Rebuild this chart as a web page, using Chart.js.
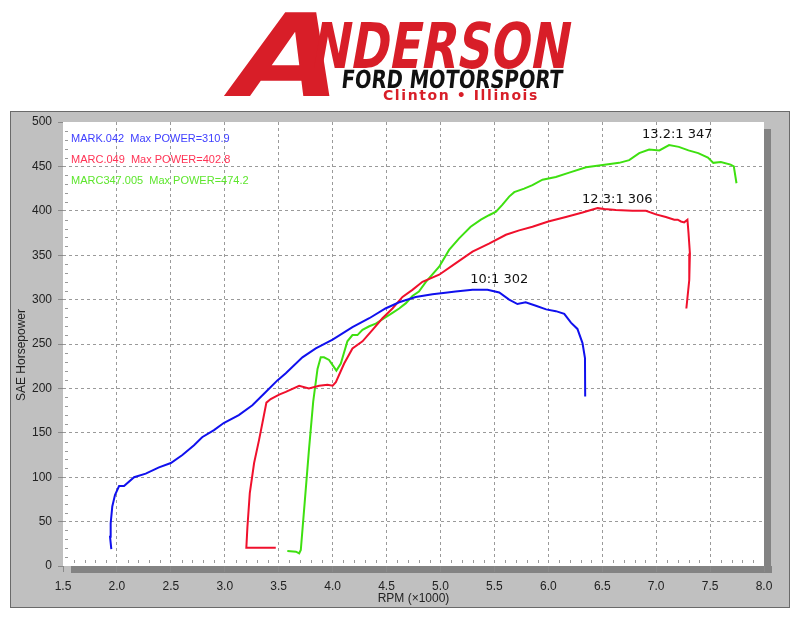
<!DOCTYPE html>
<html>
<head>
<meta charset="utf-8">
<script src="https://cdn.jsdelivr.net/npm/chart.js@4/dist/chart.umd.min.js"></script>
<style>
  html, body { margin: 0; padding: 0; background: #fff; }
  #wrap { position: relative; width: 800px; height: 618px; overflow: hidden; }
  #dyno { position: absolute; left: 0; top: 0; }
  #logo span { position: absolute; white-space: nowrap; line-height: 1; font-family: 'DejaVu Sans'; font-weight: bold; }
  #bigA { left: 218px; top: -1px; font-size: 115px; color: #d81e28; transform-origin: 0 100%; transform: skewX(-16deg) scaleX(1.2); z-index: 1; }
  #nder { left: 308px; top: 15px; font-size: 63px; color: #d81e28; transform-origin: 0 100%; transform: skewX(-10deg) scaleX(0.74); z-index: 2; }
  #ford { left: 343px; top: 67px; font-size: 25px; color: #111; transform-origin: 0 0; transform: skewX(-6deg) scaleX(0.78); z-index: 2; }
  #town { left: 383px; top: 88px; font-size: 14px; color: #d81e28; letter-spacing: 1.6px; z-index: 2; }
</style>
</head>
<body>
<div id="wrap">
  <div id="logo">
    <span id="bigA">A</span><span id="nder">NDERSON</span><span id="ford">FORD MOTORSPORT</span><span id="town">Clinton • Illinois</span>
  </div>
  <canvas id="dyno" width="800" height="618"></canvas>
</div>
<script>
// run MARK.042 (blue)
const markRpm = [1.948, 1.936, 1.942, 1.957, 1.982, 2.02, 2.066, 2.159, 2.267, 2.39, 2.5, 2.607, 2.715, 2.79, 2.9, 2.99, 3.13, 3.256, 3.38, 3.488, 3.566, 3.72, 3.844, 4.0, 4.184, 4.34, 4.49, 4.617, 4.77, 4.926, 5.065, 5.14, 5.297, 5.436, 5.545, 5.637, 5.714, 5.79, 5.885, 5.98, 6.07, 6.148, 6.21, 6.27, 6.317, 6.34, 6.342];
const markHp  = [19, 33, 48, 67, 80, 90, 90, 100, 104, 111, 116, 125, 136, 145, 153, 161, 170, 181, 196, 209, 217, 235, 245, 255, 269, 279, 290, 297, 303, 306, 308, 309, 311, 311, 308, 300, 295, 297, 293, 289, 287, 284, 274, 267, 251, 234, 191];

// run MARC.049 (red)
const marcRpm = [3.473, 3.2, 3.21, 3.232, 3.272, 3.318, 3.349, 3.386, 3.426, 3.504, 3.566, 3.69, 3.78, 3.875, 3.952, 4.0, 4.03, 4.107, 4.184, 4.277, 4.37, 4.462, 4.555, 4.648, 4.74, 4.833, 4.988, 5.143, 5.297, 5.45, 5.607, 5.73, 5.853, 6.0, 6.163, 6.317, 6.457, 6.52, 6.627, 6.78, 6.905, 6.998, 7.09, 7.168, 7.2, 7.23, 7.26, 7.29, 7.3, 7.313, 7.307, 7.28];
const marcHp  = [20.6, 20.6, 44, 82, 116, 142, 161, 184, 188, 193, 196, 203, 200, 203, 204, 203, 207, 228, 245, 253, 266, 279, 290, 303, 311, 320, 328, 341, 354, 363, 373, 378, 382, 388, 393, 398, 403, 402, 401, 400, 400, 396, 393, 390, 390, 388, 387, 390, 375, 352, 322, 290];

// run MARC347.005 (green)
const m347Rpm = [3.58, 3.66, 3.69, 3.705, 3.74, 3.78, 3.82, 3.86, 3.89, 3.92, 3.967, 4.013, 4.035, 4.076, 4.137, 4.184, 4.23, 4.277, 4.34, 4.4, 4.478, 4.555, 4.617, 4.68, 4.74, 4.8, 4.865, 4.988, 5.08, 5.173, 5.28, 5.375, 5.45, 5.515, 5.575, 5.637, 5.684, 5.776, 5.853, 5.946, 6.07, 6.194, 6.35, 6.47, 6.657, 6.75, 6.843, 6.935, 7.03, 7.12, 7.21, 7.3, 7.39, 7.48, 7.53, 7.6, 7.69, 7.72, 7.745];
const m347Hp  = [16.9, 16.1, 14.3, 18, 70, 130, 185, 222, 235, 235, 232, 224, 220, 228, 253, 260, 260, 266, 270, 273, 279, 285, 290, 296, 304, 309, 320, 337, 356, 369, 382, 390, 395, 399, 407, 416, 421, 425, 429, 435, 438, 443, 449, 451, 454, 457, 465, 469, 468, 474, 472, 468, 465, 460, 454, 455, 452, 450, 431];

const runNames = ['MARK.042  Max POWER=310.9', 'MARC.049  Max POWER=402.8', 'MARC347.005  Max POWER=474.2'];
const runText = ['#4040ff', '#ff3355', '#5ee62e'];
const runLine = ['#1010ee', '#f0102c', '#3ee010'];

// labels written next to the curves: [rpm, hp, text]
const notes = [[5.545, 323, '10:1 302'], [6.64, 413, '12.3:1 306'], [7.196, 486, '13.2:1 347']];

const pts = (xs, ys) => xs.map((x, i) => ({ x: x, y: ys[i] }));

const frame = {
  id: 'frame',
  beforeDraw(chart) {
    const { ctx, chartArea: a } = chart;
    ctx.save();
    ctx.fillStyle = '#c0c0c0';
    ctx.fillRect(10, 111, 780, 497);
    ctx.strokeStyle = '#6a6a6a';
    ctx.lineWidth = 1;
    ctx.strokeRect(10.5, 111.5, 779, 496);
    ctx.fillStyle = '#838383';
    ctx.fillRect(a.left + 8, a.bottom, a.right - a.left, 7);
    ctx.fillRect(a.right, a.top + 7, 7, a.bottom - a.top);
    ctx.fillStyle = '#fff';
    ctx.fillRect(a.left, a.top, a.right - a.left, a.bottom - a.top);
    ctx.restore();
  },
  beforeDatasetsDraw(chart) {
    // small minor ticks inside the plot
    const { ctx, chartArea: a, scales } = chart;
    ctx.save();
    ctx.strokeStyle = '#9a9a9a';
    ctx.lineWidth = 1;
    ctx.beginPath();
    for (let i = 16; i < 80; i++) {
      if (i % 5 === 0) continue;
      const px = Math.round(scales.x.getPixelForValue(i / 10)) + 0.5;
      ctx.moveTo(px, a.bottom - 6);
      ctx.lineTo(px, a.bottom - 3);
    }
    for (let v = 10; v < 500; v += 10) {
      if (v % 50 === 0) continue;
      const py = Math.round(scales.y.getPixelForValue(v)) + 0.5;
      ctx.moveTo(a.left + 2, py);
      ctx.lineTo(a.left + 5, py);
    }
    ctx.stroke();
    ctx.restore();
  },
  afterDraw(chart) {
    const { ctx, chartArea: a, scales } = chart;
    ctx.save();
    ctx.font = '11px "Liberation Sans"';
    ctx.textBaseline = 'middle';
    ctx.textAlign = 'left';
    runNames.forEach((t, i) => {
      ctx.fillStyle = runText[i];
      ctx.fillText(t, a.left + 8, a.top + 17 + i * 21);
    });
    ctx.font = '13px "DejaVu Sans"';
    ctx.fillStyle = '#111';
    ctx.textAlign = 'center';
    notes.forEach(n => {
      ctx.fillText(n[2], scales.x.getPixelForValue(n[0]), scales.y.getPixelForValue(n[1]));
    });
    ctx.font = '12px "Liberation Sans"';
    ctx.fillStyle = '#222';
    ctx.fillText('RPM (×1000)', (a.left + a.right) / 2, 599);
    ctx.translate(22, 355);
    ctx.rotate(-Math.PI / 2);
    ctx.fillText('SAE Horsepower', 0, 0);
    ctx.restore();
  }
};

const edgeGrid = (lo, hi) => c => (c.tick && (c.tick.value === lo || c.tick.value === hi)) ? 'rgba(0,0,0,0)' : '#9a9a9a';
const tickFont = { family: 'Liberation Sans', size: 12 };

new Chart(document.getElementById('dyno').getContext('2d'), {
  type: 'line',
  data: {
    datasets: [
      { label: runNames[0], data: pts(markRpm, markHp), borderColor: runLine[0] },
      { label: runNames[1], data: pts(marcRpm, marcHp), borderColor: runLine[1] },
      { label: runNames[2], data: pts(m347Rpm, m347Hp), borderColor: runLine[2] }
    ]
  },
  options: {
    responsive: false,
    animation: false,
    layout: { padding: { left: 0, top: 122, right: 36, bottom: 0 } },
    elements: { point: { radius: 0 }, line: { borderWidth: 2, tension: 0, fill: false } },
    plugins: { legend: { display: false }, tooltip: { enabled: false } },
    scales: {
      x: {
        type: 'linear', min: 1.5, max: 8,
        afterFit: s => { s.height = 52; },
        ticks: { stepSize: 0.5, padding: 7, color: '#222', font: tickFont, maxRotation: 0, autoSkip: false, callback: v => v.toFixed(1) },
        grid: { color: edgeGrid(1.5, 8), tickColor: '#8a8a8a', tickLength: 6 },
        border: { display: false, dash: [3, 3] }
      },
      y: {
        min: 0, max: 500,
        afterFit: s => { s.width = 63; },
        ticks: { stepSize: 50, padding: 6, color: '#222', font: tickFont },
        grid: { color: edgeGrid(0, 500), tickColor: '#8a8a8a', tickLength: 5 },
        border: { display: false, dash: [3, 3] }
      }
    }
  },
  plugins: [frame]
});
</script>
</body>
</html>
